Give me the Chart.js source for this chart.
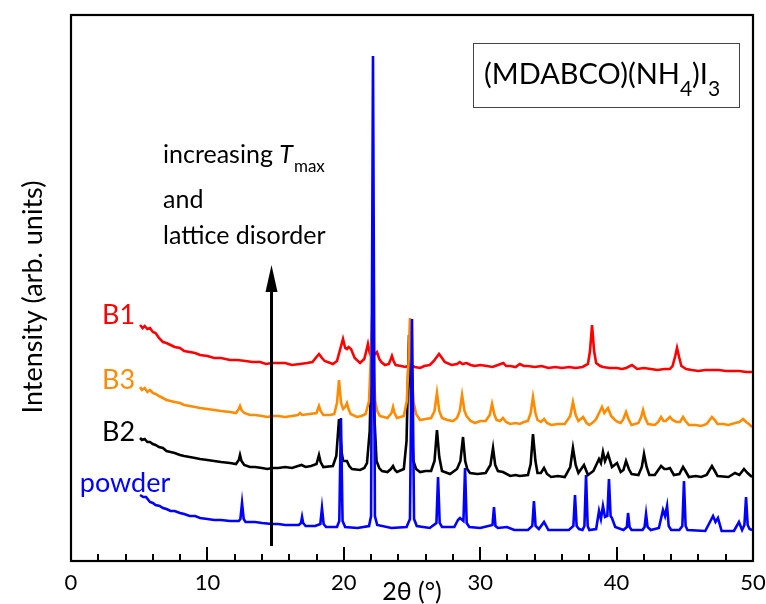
<!DOCTYPE html>
<html><head><meta charset="utf-8">
<script src="https://cdn.jsdelivr.net/npm/chart.js@4/dist/chart.umd.min.js"></script>
<style>html,body{margin:0;padding:0;background:#fff;}canvas{display:block;}</style>
</head><body>
<canvas id="c" width="766" height="604"></canvas>
<script>
// ---- data (2θ in degrees, intensity in arbitrary offset units) ----
const xTicks = [0, 10, 20, 30, 40, 50];
const seriesNames = ['powder', 'B3', 'B2', 'B1'];
const seriesColors = ['#0000ff', '#ff8c00', '#000000', '#ff0000'];

const b1 = [[5.06,236],[5.25,233],[5.4,235],[5.6,232],[5.79,233],[6.0,229],[6.2,228],[6.45,223],[6.74,219],[7.0,218],[7.3,216],[7.6,214],[7.99,213],[8.3,210],[8.7,209],[9.1,208],[9.46,206],[10.0,205],[10.5,203],[11.0,203],[11.66,201],[12.2,201],[12.8,200],[13.3,199],[13.86,199],[14.3,197],[14.74,198],[15.2,198],[15.7,198],[16.2,196],[16.79,197],[17.3,198],[17.7,199],[18.0,204],[18.18,207],[18.4,203],[18.6,200],[19.2,197],[19.5,200],[19.7,210],[19.94,222],[20.1,213],[20.23,212],[20.35,214],[20.53,212],[20.8,203],[21.19,198],[21.5,202],[21.65,210],[21.77,217],[21.9,208],[22.0,205],[22.2,206],[22.43,209],[22.6,202],[22.75,199],[23.02,196],[23.3,197],[23.45,202],[23.53,205],[23.65,200],[23.8,196],[24.2,195],[24.5,194],[24.9,196],[25.2,194],[25.6,193],[25.9,195],[26.3,196],[26.6,200],[26.98,207],[27.2,203],[27.4,199],[27.9,196],[28.3,197],[28.5,199],[28.7,197],[29.0,198],[29.3,196],[29.6,195],[30.0,196],[30.5,195],[30.9,194],[31.3,196],[31.5,197],[31.7,198],[31.9,195],[32.2,195],[32.6,194],[32.9,197],[33.2,195],[33.5,195],[34.0,194],[34.5,195],[35.0,193],[35.5,194],[36.0,193],[36.5,194],[37.0,193],[37.5,194],[37.9,197],[38.05,210],[38.2,236],[38.35,210],[38.5,198],[38.8,195],[39.0,194],[39.5,193],[40.0,193],[40.4,192],[40.7,193],[41.13,196],[41.5,192],[42.0,193],[42.5,192],[43.0,191],[43.5,192],[43.9,192],[44.1,195],[44.3,205],[44.43,213],[44.6,203],[44.75,195],[45.1,192],[45.5,191],[46.0,190],[46.5,191],[47.0,191],[47.5,191],[48.0,190],[48.5,190],[49.0,190],[49.5,189],[49.93,189]];

const b3 = [[5.06,174],[5.2,171],[5.4,173],[5.6,169],[5.79,171],[6.0,168],[6.2,167],[6.45,165],[6.74,163],[7.0,161],[7.3,160],[7.6,159],[7.99,158],[8.3,156],[8.7,155],[9.1,154],[9.46,153],[10.0,152],[10.5,151],[11.0,150],[11.66,149],[12.1,148],[12.3,152],[12.39,155],[12.5,151],[12.7,148],[13.12,146],[13.5,146],[14.0,145],[14.4,144],[14.74,145],[15.2,145],[15.7,144],[16.2,145],[16.64,146],[16.79,148],[16.95,146],[17.5,147],[18.0,148],[18.18,155],[18.3,150],[18.5,146],[19.0,146],[19.3,147],[19.5,158],[19.65,181],[19.8,158],[19.95,152],[20.1,154],[20.23,158],[20.35,152],[20.5,147],[20.97,144],[21.3,145],[21.6,147],[21.85,160],[21.97,200],[22.07,245],[22.17,200],[22.3,160],[22.45,150],[22.65,145],[23.2,143],[23.5,148],[23.61,154],[23.72,148],[23.9,143],[24.4,145],[24.62,160],[24.75,200],[24.85,243],[24.95,200],[25.1,160],[25.3,147],[25.59,141],[26.0,142],[26.4,143],[26.65,150],[26.83,168],[27.0,150],[27.2,143],[27.6,141],[28.0,140],[28.3,143],[28.5,150],[28.67,166],[28.85,150],[29.0,145],[29.3,140],[29.62,138],[30.0,140],[30.4,140],[30.7,146],[30.87,157],[31.05,146],[31.2,141],[31.45,140],[31.67,143],[31.9,139],[32.2,137],[32.6,138],[32.9,137],[33.2,139],[33.5,140],[33.7,148],[33.87,164],[34.05,148],[34.2,141],[34.45,139],[34.68,142],[34.9,138],[35.2,136],[35.7,137],[36.2,137],[36.6,145],[36.8,159],[37.0,146],[37.2,140],[37.54,144],[37.8,138],[38.0,136],[38.3,139],[38.5,142],[38.75,149],[38.93,154],[39.1,148],[39.25,151],[39.37,153],[39.6,145],[39.88,141],[40.1,139],[40.3,138],[40.5,142],[40.69,149],[40.9,141],[41.1,136],[41.6,138],[41.8,144],[41.94,151],[42.1,143],[42.3,137],[42.8,136],[43.05,139],[43.26,144],[43.45,140],[43.6,140],[43.91,144],[44.1,141],[44.4,139],[44.65,139],[44.87,144],[45.05,140],[45.3,136],[45.8,136],[46.2,135],[46.6,137],[46.99,144],[47.2,141],[47.4,137],[47.8,137],[48.2,136],[48.7,138],[49.0,139],[49.27,142],[49.5,139],[49.7,137],[49.93,134]];

const b2 = [[5.06,123],[5.2,121],[5.4,122],[5.6,119],[5.79,119],[6.0,117],[6.2,116],[6.45,114],[6.74,113],[7.0,110],[7.3,109],[7.6,108],[7.99,106],[8.3,105],[8.7,104],[9.1,103],[9.46,102],[10.0,101],[10.5,100],[11.0,99],[11.66,98],[12.1,97],[12.3,101],[12.39,106],[12.5,100],[12.7,96],[13.12,94],[13.5,94],[14.0,93],[14.4,92],[14.74,93],[15.2,93],[15.7,94],[16.2,93],[16.64,95],[16.9,96],[17.2,94],[17.6,95],[18.0,97],[18.18,106],[18.3,99],[18.5,94],[19.2,95],[19.45,105],[19.65,142],[19.85,108],[19.95,100],[20.1,100],[20.23,100],[20.4,95],[20.6,92],[21.2,91],[21.5,93],[21.7,98],[21.9,130],[22.07,226],[22.22,150],[22.4,100],[22.6,93],[22.8,90],[23.2,89],[23.45,92],[23.61,95],[23.75,91],[23.9,89],[24.4,92],[24.6,120],[24.78,226],[24.95,150],[25.1,100],[25.3,92],[25.59,89],[26.0,90],[26.4,90],[26.65,100],[26.83,131],[27.0,104],[27.2,90],[27.79,87],[28.3,92],[28.55,100],[28.74,124],[28.9,100],[29.05,92],[29.25,88],[29.8,87],[30.4,88],[30.75,96],[30.94,113],[31.1,96],[31.3,90],[31.67,89],[32.2,85],[32.6,86],[32.9,85],[33.5,86],[33.7,97],[33.87,127],[34.05,100],[34.2,88],[34.45,88],[34.68,93],[34.9,87],[35.2,84],[35.7,85],[36.2,84],[36.6,94],[36.8,113],[37.0,96],[37.2,88],[37.61,96],[37.9,86],[38.3,90],[38.71,102],[38.85,98],[39.0,109],[39.15,100],[39.37,107],[39.66,94],[40.03,98],[40.3,89],[40.5,91],[40.69,100],[40.9,92],[41.1,87],[41.6,86],[41.85,94],[42.01,107],[42.2,94],[42.4,86],[42.8,86],[43.26,95],[43.5,92],[43.7,92],[43.91,93],[44.2,86],[44.6,87],[44.87,94],[45.05,90],[45.3,84],[45.8,85],[46.2,84],[46.6,86],[46.99,95],[47.2,90],[47.4,85],[48.2,84],[48.68,88],[49.0,86],[49.34,92],[49.6,88],[49.93,84]];

const powder = [[5.06,66],[5.3,64],[5.5,64],[5.79,59],[6.0,58],[6.2,56],[6.5,55],[6.74,53],[7.0,52],[7.3,50],[7.6,50],[7.99,48],[8.3,47],[8.7,45],[9.1,45],[9.46,43],[10.0,42],[10.5,41],[11.0,41],[11.66,40],[12.3,40],[12.42,42],[12.54,58],[12.66,42],[12.8,39],[13.12,39],[13.5,39],[14.0,38],[14.74,37],[15.2,37],[15.7,36],[16.2,36],[16.7,36],[16.86,38],[16.94,44],[17.02,38],[17.2,35],[17.9,35],[18.28,37],[18.4,53],[18.52,37],[18.7,34],[19.5,34],[19.67,40],[19.79,143],[19.91,40],[20.1,34],[21.0,33],[21.85,35],[22.0,45],[22.14,505],[22.28,45],[22.45,36],[23.5,33],[24.6,34],[24.85,42],[25.0,242],[25.15,42],[25.35,35],[26.3,33],[26.79,38],[26.91,84],[27.03,38],[27.2,34],[28.1,34],[28.37,41],[28.52,43],[28.77,40],[28.89,93],[29.01,38],[29.2,34],[30.0,33],[30.9,36],[31.01,54],[31.12,35],[31.3,33],[31.96,34],[32.5,31],[33.5,31],[33.82,35],[33.94,60],[34.06,35],[34.3,32],[34.68,39],[35.0,31],[36.5,31],[36.83,35],[36.95,66],[37.07,35],[37.25,32],[37.5,31],[37.64,35],[37.76,86],[37.88,35],[38.0,31],[38.5,32],[38.71,50],[38.85,42],[39.0,55],[39.15,44],[39.32,45],[39.44,82],[39.56,45],[39.66,43],[39.9,34],[40.5,31],[40.75,34],[40.84,48],[40.95,34],[41.1,31],[41.9,31],[42.05,34],[42.16,47],[42.27,34],[42.5,31],[43.1,33],[43.4,51],[43.55,45],[43.7,55],[43.82,35],[44.0,31],[44.6,31],[44.82,35],[44.94,80],[45.06,35],[45.2,31],[46.5,30],[47.07,45],[47.25,39],[47.43,43],[47.7,30],[48.6,30],[48.97,39],[49.2,31],[49.37,36],[49.49,64],[49.61,36],[49.75,32],[49.93,31]];

const seriesData = [powder, b3, b2, b1];
// annotation anchors (data coordinates)
const labelAnchors = [[0.65, 78], [2.27, 181], [2.27, 129], [2.27, 246]];
const arrowAt = [14.7, 15, 296];   // x, y start, y tip

const FONT = 'Lato, "Open Sans", sans-serif';

function drawRuns(ctx, x, y, runs) {
  let cx = x;
  for (const r of runs) {
    ctx.font = r.font;
    ctx.fillText(r.t, cx, y + (r.dy || 0));
    cx += ctx.measureText(r.t).width + (r.gap || 0);
  }
  return cx;
}

const overlay = {
  id: 'overlay',
  afterDatasetsDraw(chart) {
    const { ctx, chartArea: a, scales: { x, y } } = chart;
    ctx.save();
    ctx.strokeStyle = '#000';
    ctx.lineCap = 'butt';
    // inward ticks on bottom axis
    ctx.lineWidth = 2;
    for (let v = 0; v <= 50; v += 2) {
      const px = Math.round(x.getPixelForValue(v));
      const len = v % 10 === 0 ? 14 : 7;
      ctx.beginPath(); ctx.moveTo(px, a.bottom); ctx.lineTo(px, a.bottom - len); ctx.stroke();
    }
    // frame
    ctx.lineWidth = 2.2;
    ctx.strokeRect(a.left, a.top, a.right - a.left, a.bottom - a.top);

    // arrow
    const ax = x.getPixelForValue(arrowAt[0]);
    const ay0 = y.getPixelForValue(arrowAt[1]);
    const ay1 = y.getPixelForValue(arrowAt[2]);
    ctx.lineWidth = 3;
    ctx.beginPath(); ctx.moveTo(ax, ay0); ctx.lineTo(ax, ay1 + 20); ctx.stroke();
    ctx.fillStyle = '#000';
    ctx.beginPath(); ctx.moveTo(ax, ay1); ctx.lineTo(ax - 6, ay1 + 27); ctx.lineTo(ax + 6, ay1 + 27); ctx.closePath(); ctx.fill();

    // series labels
    ctx.textBaseline = 'middle';
    ctx.textAlign = 'left';
    ctx.font = '27px ' + FONT;
    seriesNames.forEach((n, i) => {
      ctx.fillStyle = seriesColors[i];
      ctx.fillText(n, x.getPixelForValue(labelAnchors[i][0]), y.getPixelForValue(labelAnchors[i][1]));
    });

    // axis titles
    ctx.fillStyle = '#000';
    ctx.textAlign = 'center';
    ctx.font = '27px ' + FONT;
    ctx.save();
    ctx.translate(33, 297);
    ctx.rotate(-Math.PI / 2);
    ctx.fillText('Intensity (arb. units)', 0, 0);
    ctx.restore();
    ctx.font = '25px ' + FONT;
    ctx.fillText('2θ (°)', (a.left + a.right) / 2, 592);

    // annotation text
    ctx.textAlign = 'left';
    ctx.textBaseline = 'alphabetic';
    const tf = '25px ' + FONT;
    drawRuns(ctx, 163, 163, [
      { t: 'increasing ', font: tf },
      { t: 'T', font: 'italic ' + tf, gap: 1 },
      { t: 'max', font: '17px ' + FONT, dy: 9 }
    ]);
    ctx.font = tf;
    ctx.fillText('and', 163, 208);
    ctx.fillText('lattice disorder', 163, 244);

    // formula box
    ctx.lineWidth = 1;
    ctx.strokeStyle = '#444';
    ctx.strokeRect(473.5, 43.5, 266, 64);
    ctx.fillStyle = '#000';
    const ff = '29px ' + FONT, sf = '21px ' + FONT;
    drawRuns(ctx, 484, 84, [
      { t: '(MDABCO)(NH', font: ff },
      { t: '4', font: sf, dy: 12 },
      { t: ')I', font: ff },
      { t: '3', font: sf, dy: 12 }
    ]);
    ctx.restore();
  }
};

new Chart(document.getElementById('c'), {
  type: 'line',
  data: {
    datasets: seriesNames.map((n, i) => ({
      label: n,
      data: seriesData[i].map(p => ({ x: p[0], y: p[1] })),
      borderColor: seriesColors[i],
      borderWidth: 2.6,
      pointRadius: 0,
      tension: 0,
      fill: false
    }))
  },
  options: {
    responsive: false,
    animation: false,
    devicePixelRatio: 1,
    layout: { padding: { left: 0, right: 13, top: 15, bottom: 0 } },
    plugins: { legend: { display: false }, tooltip: { enabled: false } },
    scales: {
      x: {
        type: 'linear', min: 0, max: 50,
        afterBuildTicks: s => { s.ticks = xTicks.map(v => ({ value: v })); },
        afterFit: s => { s.height = 43; s.paddingLeft = 0; s.paddingRight = 0; },
        grid: { display: false, drawTicks: false },
        border: { display: false },
        ticks: { color: '#000', font: { family: FONT, size: 22 }, padding: 9, maxRotation: 0 }
      },
      y: {
        type: 'linear', min: 0, max: 546,
        afterFit: s => { s.width = 71; },
        grid: { display: false, drawTicks: false },
        border: { display: false },
        ticks: { display: false }
      }
    }
  },
  plugins: [overlay]
});
</script>
</body></html>
